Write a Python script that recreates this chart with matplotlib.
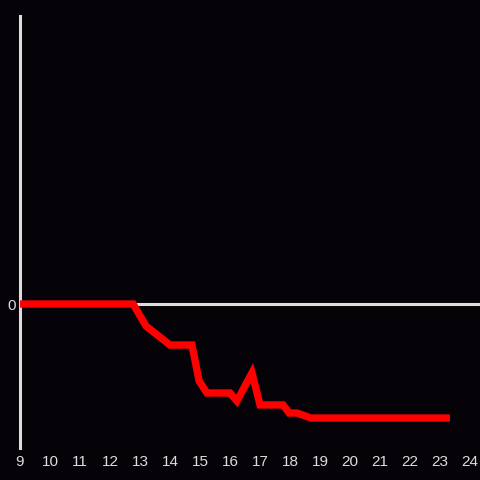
import matplotlib
matplotlib.use("Agg")
import matplotlib.pyplot as plt

hours = [9.0, 12.77, 13.2, 14.0, 14.73, 14.97, 15.23, 16.0, 16.23, 16.73, 17.0,
         17.77, 17.97, 18.23, 18.7, 23.33]
values = [0.0, 0.0, -15.3, -28.5, -28.5, -53.5, -61.8, -61.8, -67.4, -47.9, -70.1,
          -70.1, -75.7, -75.7, -79.2, -79.2]
xticks = list(range(9, 25))
yticks = [0]

bg = "#050308"
fg = "#dcdcdc"

plt.rcParams['font.family'] = ['Liberation Sans', 'DejaVu Sans']
fig = plt.figure(figsize=(4.8, 4.8), dpi=100, facecolor=bg)
ax = fig.add_axes([20/480, 32/480, 460/480, 432/480], facecolor=bg)

ax.axhline(0, color=fg, lw=2.2, zorder=1)
ax.plot(hours, values, color="#ff0000", lw=5.3, solid_joinstyle='miter',
        solid_capstyle='butt', zorder=3)

ax.set_xlim(9, 24.33)
ax.set_ylim(-100, 200)
ax.set_xticks(xticks)
ax.set_yticks(yticks)
ax.tick_params(axis='both', length=0, colors=fg, labelsize=11)
ax.tick_params(axis='x', pad=5)
ax.tick_params(axis='y', pad=3)
for s in ['top', 'right', 'bottom']:
    ax.spines[s].set_visible(False)
ax.spines['left'].set_color(fg)
ax.spines['left'].set_linewidth(2.2)

fig.savefig("out.png", dpi=100, facecolor=bg)
